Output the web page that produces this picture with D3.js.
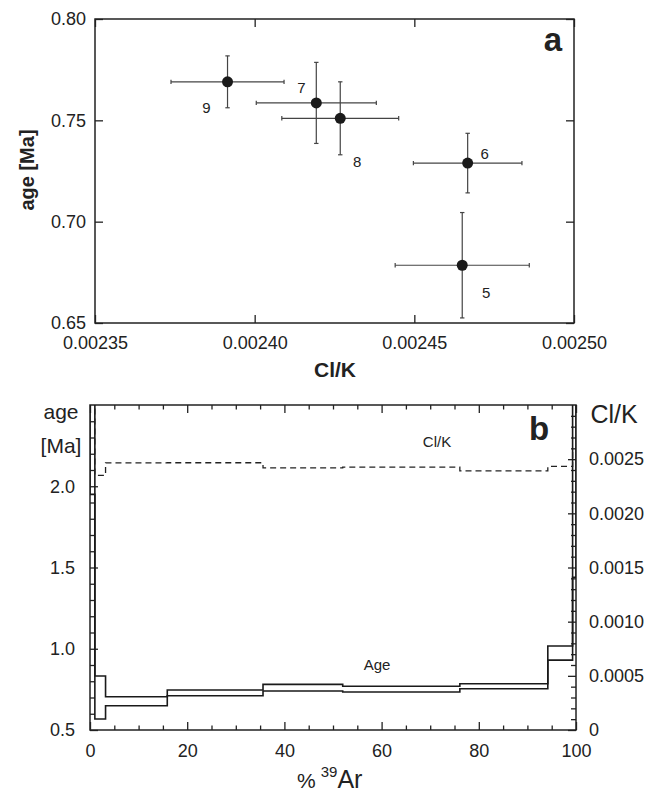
<!DOCTYPE html>
<html>
<head>
<meta charset="utf-8">
<script src="https://cdn.jsdelivr.net/npm/d3@7"></script>
<style>
  html, body { margin: 0; padding: 0; background: #fff; }
  svg { display: block; font-family: "Liberation Sans", Arial, Helvetica, sans-serif; }
</style>
</head>
<body>
<svg id="chart" width="659" height="792"></svg>
<script>
// ---------- Panel a data ----------
const stepIds = ["5", "6", "7", "8", "9"];
const clK = [0.002465, 0.0024667, 0.0024193, 0.0024268, 0.0023915];
const clKErr = [0.000021, 0.000017, 0.0000188, 0.0000183, 0.0000177];
const ageA = [0.6785, 0.7289, 0.7586, 0.7510, 0.7690];
const ageErr = [0.026, 0.0147, 0.020, 0.018, 0.0128];
const xTicksA = [0.00235, 0.00240, 0.00245, 0.00250];
const yTicksA = [0.65, 0.70, 0.75, 0.80];

// ---------- Panel b data ----------
const ar39Bounds = [0, 1.0, 3.2, 15.9, 35.6, 52.0, 76.1, 94.2, 99.3, 100];
const ageLow  = [1.95, 0.568, 0.649, 0.711, 0.740, 0.734, 0.754, 0.930, 1.44];
const ageHigh = [2.90, 0.832, 0.705, 0.746, 0.781, 0.769, 0.785, 1.017, 2.90];
const clKStep = [0.0032, 0.00235, 0.002465, 0.0024667, 0.0024193, 0.0024268, 0.0023915, 0.002433, 0.00256];
const xTicksB = [0, 20, 40, 60, 80, 100];
const yLeftTicksB = [0.5, 1.0, 1.5, 2.0];
const yRightTicksB = [0, 0.0005, 0.0010, 0.0015, 0.0020, 0.0025];

const svg = d3.select("#chart");
const FONT = 18;

// ================= Panel a =================
const xA = d3.scaleLinear().domain([0.00235, 0.00250]).range([95, 574]);
const yA = d3.scaleLinear().domain([0.65, 0.80]).range([323, 19]);
const gA = svg.append("g");

function styleAxis(g, size) {
  g.select(".domain").remove();
  g.selectAll(".tick line").attr("stroke", "#222").attr("stroke-width", 1.3);
  g.selectAll(".tick text").attr("font-size", size).attr("fill", "#222");
}

gA.append("g").attr("transform", "translate(0,323)")
  .call(d3.axisBottom(xA).tickValues(xTicksA).tickSize(-8).tickPadding(13.5).tickFormat(d3.format(".5f")))
  .call(g => styleAxis(g, FONT));
gA.append("g").attr("transform", "translate(0,19)")
  .call(d3.axisTop(xA).tickValues(xTicksA).tickSize(-8).tickFormat(""))
  .call(g => styleAxis(g, FONT));
gA.append("g").attr("transform", "translate(95,0)")
  .call(d3.axisLeft(yA).tickValues(yTicksA).tickSize(-8).tickPadding(9).tickFormat(d3.format(".2f")))
  .call(g => styleAxis(g, FONT));
gA.append("g").attr("transform", "translate(574,0)")
  .call(d3.axisRight(yA).tickValues(yTicksA).tickSize(-8).tickFormat(""))
  .call(g => styleAxis(g, FONT));
gA.selectAll(".tick text").attr("font-family", "Liberation Sans, Arial, sans-serif");

gA.append("rect").attr("x", xA(0.00235)).attr("y", yA(0.80))
  .attr("width", xA(0.00250) - xA(0.00235)).attr("height", yA(0.65) - yA(0.80))
  .attr("fill", "none").attr("stroke", "#222").attr("stroke-width", 1.5);

const ptsA = stepIds.map((id, i) => ({ id, x: clK[i], xe: clKErr[i], y: ageA[i], ye: ageErr[i] }));
const errG = gA.append("g").attr("stroke", "#444").attr("stroke-width", 1.2);
const cap = 2.2;
ptsA.forEach(p => {
  const cx = xA(p.x), cy = yA(p.y);
  const x0 = xA(p.x - p.xe), x1 = xA(p.x + p.xe);
  const y0 = yA(p.y - p.ye), y1 = yA(p.y + p.ye);
  errG.append("line").attr("x1", x0).attr("x2", x1).attr("y1", cy).attr("y2", cy);
  errG.append("line").attr("x1", x0).attr("x2", x0).attr("y1", cy - cap).attr("y2", cy + cap);
  errG.append("line").attr("x1", x1).attr("x2", x1).attr("y1", cy - cap).attr("y2", cy + cap);
  errG.append("line").attr("x1", cx).attr("x2", cx).attr("y1", y0).attr("y2", y1);
  errG.append("line").attr("x1", cx - cap).attr("x2", cx + cap).attr("y1", y0).attr("y2", y0);
  errG.append("line").attr("x1", cx - cap).attr("x2", cx + cap).attr("y1", y1).attr("y2", y1);
});
gA.selectAll("circle.pt").data(ptsA).join("circle").attr("class", "pt")
  .attr("cx", d => xA(d.x)).attr("cy", d => yA(d.y)).attr("r", 5.5).attr("fill", "#1a1a1a");

const labelOffset = { "5": [24, 27], "6": [17, -9], "7": [-15, -15], "8": [17, 43], "9": [-21, 26] };
gA.selectAll("text.lbl").data(ptsA).join("text").attr("class", "lbl")
  .attr("x", d => xA(d.x) + labelOffset[d.id][0])
  .attr("y", d => yA(d.y) + labelOffset[d.id][1])
  .attr("dy", "0.36em").attr("text-anchor", "middle")
  .attr("font-size", 15).attr("fill", "#222").text(d => d.id);

gA.append("text").attr("x", 553).attr("y", 51).attr("text-anchor", "middle")
  .attr("font-size", 33).attr("font-weight", "bold").attr("fill", "#222").text("a");
gA.append("text").attr("x", 335).attr("y", 377).attr("text-anchor", "middle")
  .attr("font-size", 21).attr("font-weight", "bold").attr("fill", "#222").text("Cl/K");
gA.append("text").attr("transform", "translate(34,170) rotate(-90)").attr("text-anchor", "middle")
  .attr("font-size", 20).attr("font-weight", "bold").attr("fill", "#222").text("age [Ma]");

// ================= Panel b =================
const xB = d3.scaleLinear().domain([0, 100]).range([90, 576]);
const yL = d3.scaleLinear().domain([0.5, 2.5]).range([730, 405]);
const yR = d3.scaleLinear().domain([0, 0.003]).range([730, 405]);
const gB = svg.append("g");

gB.append("clipPath").attr("id", "clipB").append("rect")
  .attr("x", xB(0)).attr("y", yL(2.5)).attr("width", xB(100) - xB(0)).attr("height", yL(0.5) - yL(2.5));

const minorX = d3.range(0, 101, 5).filter(v => v % 20 !== 0);
const minorL = d3.range(5, 26).map(v => v / 10).filter(v => Math.abs(v * 2 - Math.round(v * 2)) > 1e-6);
const minorR = d3.range(0, 31).map(v => v / 10000).filter(v => v % 0.0005 > 1e-9 && 0.0005 - (v % 0.0005) > 1e-9);

// bottom
gB.append("g").attr("transform", "translate(0,730)")
  .call(d3.axisBottom(xB).tickValues(xTicksB).tickSize(-8).tickPadding(14).tickFormat(d3.format("d")))
  .call(g => styleAxis(g, FONT));
gB.append("g").attr("transform", "translate(0,730)")
  .call(d3.axisBottom(xB).tickValues(minorX).tickSize(-4.5).tickFormat(""))
  .call(g => styleAxis(g, FONT));
// top
gB.append("g").attr("transform", "translate(0,405)")
  .call(d3.axisTop(xB).tickValues(xTicksB).tickSize(-8).tickFormat(""))
  .call(g => styleAxis(g, FONT));
gB.append("g").attr("transform", "translate(0,405)")
  .call(d3.axisTop(xB).tickValues(minorX).tickSize(-4.5).tickFormat(""))
  .call(g => styleAxis(g, FONT));
// left
gB.append("g").attr("transform", "translate(90,0)")
  .call(d3.axisLeft(yL).tickValues(yLeftTicksB).tickSize(-8).tickPadding(15).tickFormat(d3.format(".1f")))
  .call(g => styleAxis(g, FONT));
gB.append("g").attr("transform", "translate(90,0)")
  .call(d3.axisLeft(yL).tickValues(minorL).tickSize(-5).tickFormat(""))
  .call(g => styleAxis(g, FONT));
// right
gB.append("g").attr("transform", "translate(576,0)")
  .call(d3.axisRight(yR).tickValues(yRightTicksB).tickSize(-8).tickPadding(13)
    .tickFormat(d => d === 0 ? "0" : d3.format(".4f")(d)))
  .call(g => styleAxis(g, FONT));
gB.append("g").attr("transform", "translate(576,0)")
  .call(d3.axisRight(yR).tickValues(minorR).tickSize(-5).tickFormat(""))
  .call(g => styleAxis(g, FONT));

gB.append("rect").attr("x", xB(0)).attr("y", yL(2.5))
  .attr("width", xB(100) - xB(0)).attr("height", yL(0.5) - yL(2.5))
  .attr("fill", "none").attr("stroke", "#222").attr("stroke-width", 1.5);

const plotB = gB.append("g").attr("clip-path", "url(#clipB)");
const lastX = ar39Bounds[ar39Bounds.length - 1];
const stepLine = (vals, scale) => {
  const pts = vals.map((v, i) => [ar39Bounds[i], v]).concat([[lastX, vals[vals.length - 1]]]);
  return d3.line().x(d => xB(d[0])).y(d => scale(d[1])).curve(d3.curveStepAfter)(pts);
};
// age spectrum: upper and lower 1-sigma step outlines
[ageHigh, ageLow].forEach(vals => {
  plotB.append("path").attr("d", stepLine(vals, yL))
    .attr("fill", "none").attr("stroke", "#1a1a1a").attr("stroke-width", 1.6);
});
// end closures of the spectrum box
plotB.append("line").attr("x1", xB(0)).attr("x2", xB(0)).attr("y1", yL(ageHigh[0])).attr("y2", yL(ageLow[0]))
  .attr("stroke", "#1a1a1a").attr("stroke-width", 1.6);
plotB.append("line").attr("x1", xB(lastX)).attr("x2", xB(lastX))
  .attr("y1", yL(ageHigh[ageHigh.length - 1])).attr("y2", yL(ageLow[ageLow.length - 1]))
  .attr("stroke", "#1a1a1a").attr("stroke-width", 1.6);

plotB.append("path").attr("d", stepLine(clKStep, yR))
  .attr("fill", "none").attr("stroke", "#222").attr("stroke-width", 1.3).attr("stroke-dasharray", "6,4");

gB.append("text").attr("x", 437).attr("y", 447).attr("text-anchor", "middle")
  .attr("font-size", 15).attr("fill", "#222").text("Cl/K");
gB.append("text").attr("x", 377).attr("y", 670).attr("text-anchor", "middle")
  .attr("font-size", 15).attr("fill", "#222").text("Age");
gB.append("text").attr("x", 539).attr("y", 440).attr("text-anchor", "middle")
  .attr("font-size", 33).attr("font-weight", "bold").attr("fill", "#222").text("b");

gB.append("text").attr("x", 61).attr("y", 419).attr("text-anchor", "middle")
  .attr("font-size", 21).attr("fill", "#222").text("age");
gB.append("text").attr("x", 61).attr("y", 453).attr("text-anchor", "middle")
  .attr("font-size", 21).attr("fill", "#222").text("[Ma]");
gB.append("text").attr("x", 614).attr("y", 423).attr("text-anchor", "middle")
  .attr("font-size", 25).attr("fill", "#222").text("Cl/K");

const xl = gB.append("text").attr("x", 297).attr("y", 788).attr("fill", "#222").attr("font-size", 21);
xl.append("tspan").text("%");
xl.append("tspan").attr("dx", 5).attr("dy", -11).attr("font-size", 15).text("39");
xl.append("tspan").attr("dy", 11).attr("font-size", 25).text("Ar");
</script>
</body>
</html>
